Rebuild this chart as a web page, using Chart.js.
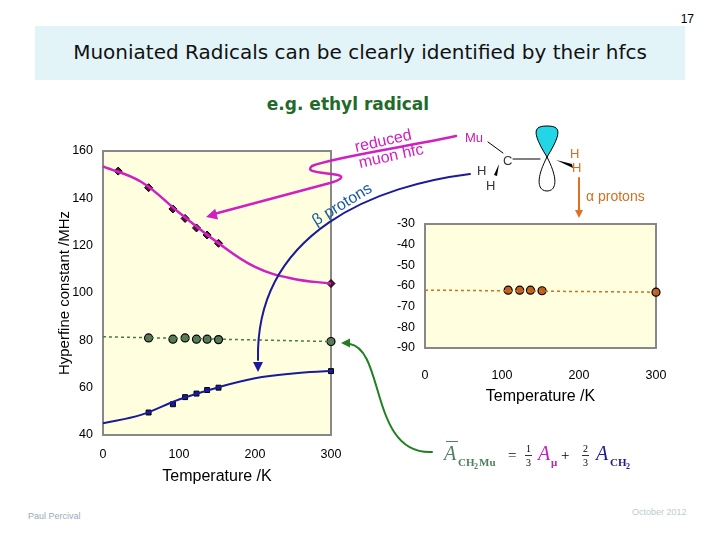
<!DOCTYPE html>
<html><head><meta charset="utf-8">
<script src="https://cdn.jsdelivr.net/npm/chart.js@4"></script>
<style>
body{margin:0;width:720px;height:540px;overflow:hidden;background:#fff;font-family:"DejaVu Sans",sans-serif}
canvas{position:absolute;left:0;top:0}
.t{position:absolute;white-space:nowrap}
</style></head><body>
<div class="t" style="left:35px;top:26px;width:650px;height:54px;background:#e3f4f8;"></div>
<div class="t" style="left:35px;top:40px;width:650px;text-align:center;font-size:20px;color:#111">Muoniated Radicals can be clearly identified by their hfcs</div>
<div class="t" style="right:26px;top:12px;font-size:12px;font-family:'Liberation Sans'">17</div>
<div class="t" style="left:0;width:696px;top:94px;text-align:center;font-size:17px;font-weight:bold;color:#1f6b2a">e.g. ethyl radical</div>
<div class="t" style="left:28px;top:511px;font-size:9px;color:#9ab;font-family:'Liberation Sans'">Paul Percival</div>
<div class="t" style="left:632px;top:507px;font-size:9px;color:#bcc;font-family:'Liberation Sans'">October 2012</div>
<canvas id="c1" width="720" height="540"></canvas>
<canvas id="c2" width="720" height="540"></canvas>
<canvas id="c3" width="720" height="540"></canvas>
<script>
const muT=[20,60,92,108,123,137,152,300];
const muA=[151.5,144.5,135.5,131.5,127.5,124.5,121,104];
const muFitT=[0,50,100,150,200,250,300];
const muFitA=[153.5,147,134,121.5,111,106,104];
const avgT=[60,92,108,123,137,152,300];
const avgA=[81,80.5,81,80.5,80.5,80.3,79.5];
const avgLineT=[0,300];
const avgLineA=[81.5,79.5];
const betaT=[60,92,108,123,137,152,300];
const betaA=[49.5,53,56,57.5,59,60,67];
const betaFitT=[0,50,100,150,200,250,300];
const betaFitA=[45,48.5,55,60,64,66,67];
const alphaT=[108,123,137,152,300];
const alphaA=[-62,-62,-62,-62.3,-63];
const alphaLineT=[0,300];
const alphaLineA=[-62,-63];
const xy=(xs,ys)=>xs.map((x,i)=>({x,y:ys[i]}));

const bg={id:'bg',beforeDraw(c){const a=c.chartArea,g=c.ctx;g.save();g.fillStyle='#ffffe0';g.fillRect(a.left,a.top,a.right-a.left,a.bottom-a.top);g.restore();},
 beforeDatasetsDraw(c){const a=c.chartArea,g=c.ctx;g.save();g.strokeStyle='#888';g.lineWidth=2;g.strokeRect(a.left,a.top,a.right-a.left,a.bottom-a.top);g.restore();}};
const tickFont={family:'Liberation Sans',size:12.5};
function scales(xmin,xmax,ymin,ymax,step,yw,xh,ytitle,tp,ttp){
 return {x:{type:'linear',min:xmin,max:xmax,grid:{display:false},border:{color:'#888',width:2},ticks:{stepSize:100,color:'#000',font:tickFont,padding:tp},
   title:{display:true,text:'Temperature /K',color:'#000',font:{family:'Liberation Sans',size:16},padding:{top:ttp}},afterFit:s=>{s.height=xh}},
  y:{min:ymin,max:ymax,grid:{display:false},border:{color:'#888',width:2},ticks:{stepSize:step,color:'#000',font:tickFont,padding:2},
   title:{display:!!ytitle,text:ytitle||'',color:'#000',font:{family:'Liberation Sans',size:15},padding:0},afterFit:s=>{s.width=yw}}};
}
const base={responsive:false,animation:false,plugins:{legend:{display:false},tooltip:{enabled:false}}};
const P=(o)=>Object.assign({clip:false},o);
new Chart(document.getElementById('c1'),{type:'scatter',plugins:[bg],data:{datasets:[
 P({data:xy(muFitT,muFitA),showLine:true,tension:0.4,borderColor:'#d020c0',borderWidth:2.5,pointRadius:0}),
 P({data:xy(betaFitT,betaFitA),showLine:true,tension:0.4,borderColor:'#1a1a9a',borderWidth:2,pointRadius:0}),
 P({data:xy(avgLineT,avgLineA),showLine:true,borderColor:'#4a7a4a',borderWidth:1.5,borderDash:[3,3],pointRadius:0}),
 P({data:xy(muT,muA),pointStyle:'rectRot',pointRadius:4,backgroundColor:'#5a1040',borderColor:'#000',borderWidth:1}),
 P({data:xy(avgT,avgA),pointStyle:'circle',pointRadius:4,backgroundColor:'#5a7a5a',borderColor:'#000',borderWidth:1.2}),
 P({data:xy(betaT,betaA),pointStyle:'rect',pointRadius:3.5,backgroundColor:'#1a1a9a',borderColor:'#000',borderWidth:1})
]},options:{...base,layout:{padding:{left:56,right:389,top:151,bottom:50}},scales:scales(0,300,40,160,20,47,55,'Hyperfine constant /MHz',4,12)}});
new Chart(document.getElementById('c2'),{type:'scatter',plugins:[bg],data:{datasets:[
 P({data:xy(alphaLineT,alphaLineA),showLine:true,borderColor:'#d0701a',borderWidth:1.5,borderDash:[3,3],pointRadius:0}),
 P({data:xy(alphaT,alphaA),pointStyle:'circle',pointRadius:4,backgroundColor:'#c06020',borderColor:'#000',borderWidth:1.2})
]},options:{...base,layout:{padding:{left:385,right:64,top:224,bottom:130}},scales:scales(0,300,-90,-30,10,40,62,null,12,10)}});

const g=document.getElementById('c3').getContext('2d');
function arrowHead(x,y,ang,col,s){g.save();g.translate(x,y);g.rotate(ang);g.fillStyle=col;g.beginPath();g.moveTo(0,0);g.lineTo(-s,-s*0.5);g.lineTo(-s,s*0.5);g.closePath();g.fill();g.restore();}
g.lineCap='round';g.lineJoin='round';
g.strokeStyle='#d020c0';g.lineWidth=2.5;g.beginPath();g.moveTo(456,136);g.bezierCurveTo(400,148,330,158,312,166);
g.bezierCurveTo(305,172,318,172,338,175);g.bezierCurveTo(345,177,340,180,330,183);g.lineTo(214,214);g.stroke();
arrowHead(206,217,Math.PI-0.26,'#d020c0',11);
g.strokeStyle='#1a1a9a';g.lineWidth=2;g.beginPath();g.moveTo(470,174);g.bezierCurveTo(380,185,255,230,258,360);g.stroke();
arrowHead(258,372,Math.PI/2,'#1a1a9a',10);
g.strokeStyle='#208020';g.lineWidth=2;g.beginPath();g.moveTo(432,452);g.bezierCurveTo(370,455,385,350,350,344);g.stroke();
arrowHead(341,343,Math.PI,'#208020',9);
g.strokeStyle='#e07020';g.lineWidth=2;g.beginPath();g.moveTo(579,178);g.lineTo(579,212);g.stroke();
arrowHead(579,218,Math.PI/2,'#e07020',8);
function rtext(t,x,y,a,col,f){g.save();g.translate(x,y);g.rotate(a);g.fillStyle=col;g.font=f;g.fillText(t,0,0);g.restore();}
rtext('reduced',356,152,-0.22,'#d020c0','16px "Liberation Sans"');
rtext('muon hfc',360,168,-0.22,'#d020c0','16px "Liberation Sans"');
rtext('β protons',316,226,-0.55,'#1a5aa0','16px "Liberation Sans"');
g.font='13px "Liberation Sans"';g.fillStyle='#c020b0';g.fillText('Mu',465,142);
g.fillStyle='#334';g.fillText('H',477,175);g.fillText('H',486,190);g.fillText('C',503,165);
g.fillStyle='#d07020';g.fillText('H',570,158);g.fillText('H',572,172);
g.font='14px "Liberation Sans"';g.fillText('α protons',586,201);
g.strokeStyle='#000';g.lineWidth=1;g.beginPath();g.moveTo(488,142);g.lineTo(503,153);g.moveTo(513,159);g.lineTo(540,159);g.stroke();
g.fillStyle='#000';g.beginPath();g.moveTo(499,164);g.lineTo(494,175);g.lineTo(497,176);g.closePath();g.fill();
g.beginPath();g.moveTo(556,160);g.lineTo(573,168);g.lineTo(572,164);g.closePath();g.fill();
g.fillStyle='#22d6e6';g.strokeStyle='#000';g.beginPath();g.moveTo(547,157);g.bezierCurveTo(530,130,535,126,547,126);g.bezierCurveTo(559,126,564,130,547,157);g.closePath();g.fill();g.stroke();
g.beginPath();g.moveTo(547,157);g.bezierCurveTo(535,180,538,191,547,191);g.bezierCurveTo(556,191,559,180,547,157);g.closePath();g.stroke();
g.font='italic 20px "Liberation Serif"';g.fillStyle='#508060';g.fillText('A',444,460);
g.fillRect(446,441,12,1);
g.font='bold 11px "Liberation Serif"';g.fillText('CH',458,466);g.font='bold 8px "Liberation Serif"';g.fillText('2',474,469);g.font='bold 11px "Liberation Serif"';g.fillText('Mu',479,466);
g.fillStyle='#000';g.font='15px "Liberation Serif"';g.fillText('=',508,460);g.fillText('+',561,460);
g.font='10px "Liberation Serif"';g.fillText('1',526,452);g.fillText('3',526,466);g.fillText('2',583,452);g.fillText('3',583,466);
g.fillRect(525,455,7,0.8);g.fillRect(582,455,7,0.8);
g.fillStyle='#c020c0';g.font='italic 20px "Liberation Serif"';g.fillText('A',538,460);g.font='bold 11px "Liberation Serif"';g.fillText('μ',551,466);
g.fillStyle='#1a1a9a';g.font='italic 20px "Liberation Serif"';g.fillText('A',596,460);g.font='bold 11px "Liberation Serif"';g.fillText('CH',610,466);g.font='bold 8px "Liberation Serif"';g.fillText('2',626,469);
</script></body></html>
